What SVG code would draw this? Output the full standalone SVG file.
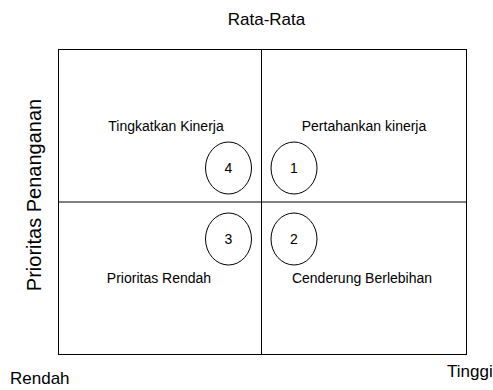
<svg xmlns="http://www.w3.org/2000/svg" width="493" height="390" viewBox="0 0 493 390">
<style>
text{font-family:"Liberation Sans",Arial,sans-serif;fill:#000}
.ax{font-size:17px}
.vt{font-size:20px}
.lb{font-size:14px}
.num{font-size:14px}
.ln{stroke:#000;stroke-width:1;fill:none}
.c{stroke:#000;stroke-width:1;fill:#fff}
</style>
<rect width="493" height="390" fill="#fff"/>
<g id="frame">
<rect class="ln" x="58.5" y="49.5" width="408" height="305"/>
</g>
<g id="connectors">
<line class="ln" x1="261.5" y1="49.5" x2="261.5" y2="354.5"/>
<line class="ln" x1="58.5" y1="202" x2="466.5" y2="202"/>
</g>
<g id="axis-labels">
<text class="ax" x="266.5" y="25" text-anchor="middle">Rata-Rata</text>
<text class="ax" x="10" y="384">Rendah</text>
<text class="ax" x="447" y="377">Tinggi</text>
<text class="vt" transform="translate(41,195) rotate(-90)" text-anchor="middle">Prioritas Penanganan</text>
</g>
<g id="q4">
<text class="lb" x="166" y="131" text-anchor="middle">Tingkatkan Kinerja</text>
<ellipse class="c" cx="228.5" cy="168" rx="23" ry="26"/>
<text class="num" x="228.5" y="173" text-anchor="middle">4</text>
</g>
<g id="q1">
<text class="lb" x="364" y="131" text-anchor="middle">Pertahankan kinerja</text>
<ellipse class="c" cx="294" cy="168" rx="23" ry="26"/>
<text class="num" x="294" y="173" text-anchor="middle">1</text>
</g>
<g id="q3">
<ellipse class="c" cx="228.5" cy="239" rx="23" ry="26"/>
<text class="num" x="228.5" y="244" text-anchor="middle">3</text>
<text class="lb" x="159" y="283" text-anchor="middle">Prioritas Rendah</text>
</g>
<g id="q2">
<ellipse class="c" cx="294" cy="239" rx="23" ry="26"/>
<text class="num" x="294" y="244" text-anchor="middle">2</text>
<text class="lb" x="362" y="283" text-anchor="middle">Cenderung Berlebihan</text>
</g>
</svg>
